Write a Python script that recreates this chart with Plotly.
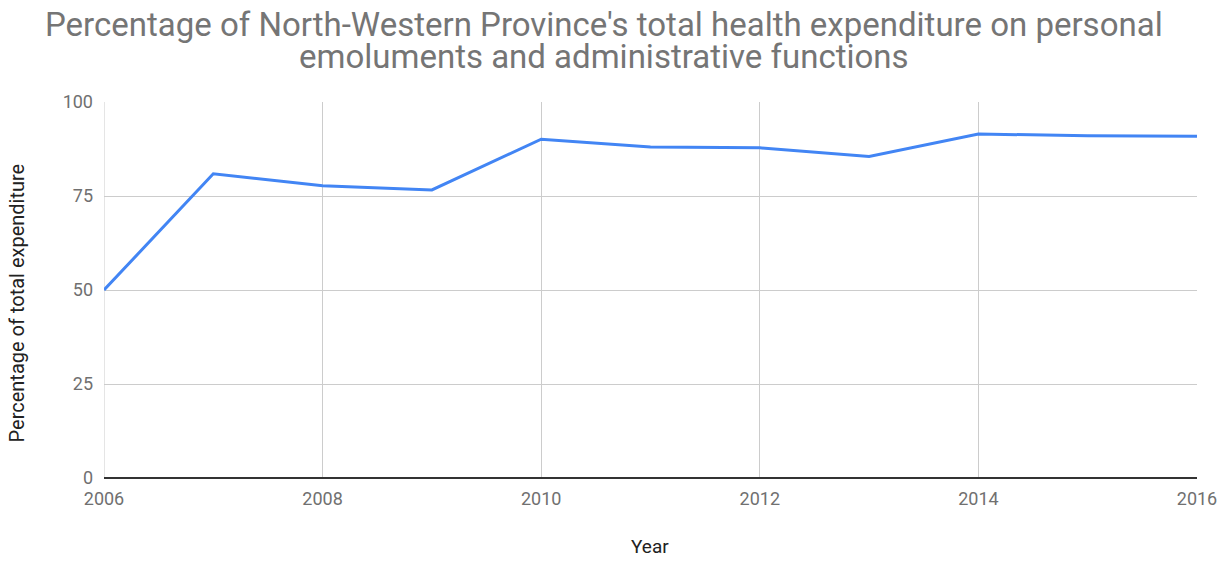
import plotly.graph_objects as go

# Share of North-Western Province health expenditure spent on
# personal emoluments and administrative functions
years = [2006, 2007, 2008, 2009, 2010, 2011, 2012, 2013, 2014, 2015, 2016]
share_pct = [50.0, 80.9, 77.7, 76.6, 90.1, 88.0, 87.8, 85.5, 91.5, 91.0, 90.9]

x_ticks = [2006, 2008, 2010, 2012, 2014, 2016]
y_ticks = [0, 25, 50, 75, 100]

title_lines = [
    "Percentage of North-Western Province's total health expenditure on personal",
    "emoluments and administrative functions",
]

FONT = "Roboto, Arial, sans-serif"
TICK_COLOR = "#707070"
GRID = "#cccccc"

fig = go.Figure(
    go.Scatter(
        x=years,
        y=share_pct,
        mode="lines",
        line=dict(color="#4285f4", width=3),
        hoverinfo="x+y",
        showlegend=False,
    )
)

fig.update_layout(
    width=1231,
    height=562,
    margin=dict(l=104, r=34, t=102, b=84),
    paper_bgcolor="white",
    plot_bgcolor="white",
    font=dict(family=FONT, size=18, color=TICK_COLOR),
    xaxis=dict(
        range=[2006, 2016],
        tickvals=x_ticks,
        ticktext=[str(v) for v in x_ticks],
        showgrid=True,
        gridcolor=GRID,
        gridwidth=1,
        zeroline=False,
        showline=False,
        ticks="",
        ticklabelstandoff=8,
        tickfont=dict(size=18, color=TICK_COLOR),
    ),
    yaxis=dict(
        range=[0, 100],
        tickvals=y_ticks,
        showgrid=True,
        gridcolor=GRID,
        gridwidth=1,
        zeroline=True,
        zerolinecolor="#333333",
        zerolinewidth=2,
        showline=False,
        ticks="",
        ticklabelstandoff=10,
        tickfont=dict(size=18, color=TICK_COLOR),
    ),
)

# Two-line chart title, each line placed separately for tight line spacing
for text, ypos in zip(title_lines, [1.2074, 1.122]):
    fig.add_annotation(
        text=text, xref="paper", yref="paper", x=0.4575, y=ypos,
        xanchor="center", yanchor="middle", showarrow=False,
        font=dict(family=FONT, size=33, color="#757575"),
    )

# Axis titles
fig.add_annotation(
    text="Year", xref="paper", yref="paper", x=0.4995, y=-0.1835,
    xanchor="center", yanchor="middle", showarrow=False,
    font=dict(family=FONT, size=19, color="#222222"),
)
fig.add_annotation(
    text="Percentage of total expenditure", xref="paper", yref="paper",
    x=-0.0787, y=0.4668, textangle=-90,
    xanchor="center", yanchor="middle", showarrow=False,
    font=dict(family=FONT, size=20, color="#222222"),
)

# Left border of the plot area (grid line at the first year)
fig.add_shape(
    type="line", xref="x", yref="y",
    x0=2006, x1=2006, y0=0, y1=100,
    line=dict(color=GRID, width=1), layer="below",
)

fig.write_html("out.html")
